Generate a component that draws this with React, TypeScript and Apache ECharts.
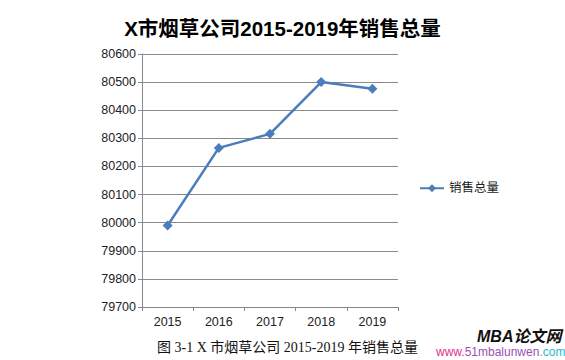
import React, { useEffect, useRef } from "react";
import * as echarts from "echarts";

const categories = ["2015", "2016", "2017", "2018", "2019"];
const salesValues = [79990, 80266, 80316, 80500, 80476];
const seriesName = "销售总量";
const titleText = "X市烟草公司2015-2019年销售总量";
const captionText = "图 3-1 X 市烟草公司 2015-2019 年销售总量";

const sans = "'Liberation Sans', Arial, 'Noto Sans CJK SC', sans-serif";

export default function App() {
  const ref = useRef<HTMLDivElement>(null);
  useEffect(() => {
    const chart = echarts.init(ref.current!, null, { renderer: "svg" });
    chart.setOption({
      animation: false,
      backgroundColor: "#ffffff",
      title: {
        text: titleText,
        left: "center",
        top: 13,
        textStyle: { fontFamily: sans, fontSize: 20.5, fontWeight: "bold", color: "#000" },
      },
      legend: {
        left: 414,
        top: 177,
        orient: "vertical",
        itemWidth: 24,
        itemHeight: 10,
        itemGap: 4,
        textStyle: { fontFamily: sans, fontSize: 12.5, color: "#222" },
        data: [seriesName],
      },
      grid: { left: 142, right: 167, top: 54, bottom: 53 },
      xAxis: {
        type: "category",
        data: categories,
        boundaryGap: true,
        axisLine: { lineStyle: { color: "#888", width: 1 } },
        axisTick: { show: true, length: 4, lineStyle: { color: "#888" } },
        axisLabel: { fontFamily: sans, fontSize: 12.5, color: "#222", margin: 9 },
      },
      yAxis: {
        type: "value",
        min: 79700,
        max: 80600,
        interval: 100,
        axisLine: { show: true, lineStyle: { color: "#888", width: 1 } },
        axisTick: { show: true, length: 4, lineStyle: { color: "#888" } },
        axisLabel: {
          fontFamily: sans,
          fontSize: 12.5,
          color: "#222",
          margin: 6,
          formatter: (v: number) => String(v),
        },
        splitLine: { lineStyle: { color: "#8a8a8a", width: 1 } },
      },
      series: [
        {
          name: seriesName,
          type: "line",
          data: salesValues,
          symbol: "diamond",
          symbolSize: 10,
          lineStyle: { color: "#4a7ebb", width: 2.5 },
          itemStyle: { color: "#4a7ebb" },
        },
      ],
      graphic: [
        {
          type: "text",
          left: 157,
          top: 340,
          style: {
            text: captionText,
            fontFamily: "'Liberation Serif', 'Noto Sans CJK SC', serif",
            fontSize: 14,
            fill: "#111",
          },
        },
        {
          type: "text",
          left: 477,
          top: 328,
          style: {
            text: "MBA论文网",
            fontFamily: sans,
            fontSize: 16,
            fontWeight: "bold",
            fontStyle: "italic",
            fill: "#111",
          },
        },
        {
          type: "text",
          left: 436,
          top: 346,
          style: {
            text: "{a|www.}{b|51mbalunwen}{c|.com}",
            fontFamily: sans,
            fontSize: 12,
            rich: {
              a: { fill: "#e0308c", fontSize: 12, fontFamily: sans },
              b: { fill: "#9a4fb0", fontSize: 12, fontFamily: sans },
              c: { fill: "#2bb6d0", fontSize: 12, fontFamily: sans },
            },
          },
        },
      ],
    });
    return () => chart.dispose();
  }, []);
  return <div ref={ref} style={{ width: 565, height: 360, position: "absolute", left: 0, top: 0 }} />;
}
